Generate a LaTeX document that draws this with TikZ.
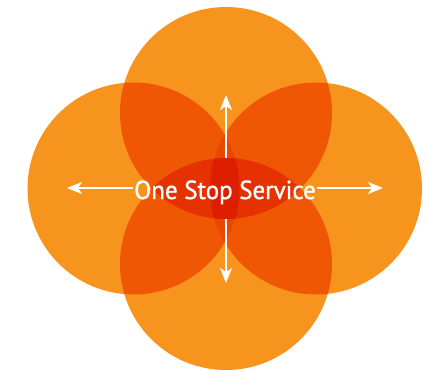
\documentclass[tikz,border=0pt]{standalone}
\usepackage{fontspec}
\setmainfont{PT Sans}
\newfontfamily\lblfont{PT Sans}[FakeBold=1.2]
\usetikzlibrary{arrows.meta}
\definecolor{cS}{RGB}{247,148,30}
\definecolor{cD}{RGB}{239,87,4}
\definecolor{cTLR}{RGB}{234,72,2}
\definecolor{cTBS}{RGB}{229,50,0}
\definecolor{cAll}{RGB}{221,30,0}
\begin{document}
\begin{tikzpicture}[x=1pt,y=1pt,
  arr/.style={draw=white, line width=2pt, -{Stealth[length=15pt,width=12pt,inset=4pt]}},
  lbl/.style={text=white, font=\lblfont\fontsize{26}{30}\selectfont, inner sep=1.5pt, xscale=0.96}]
\useasboundingbox (0,0) rectangle (427,-371);
\def\circT{(226,-113) circle[radius=106]}
\def\circB{(226,-264) circle[radius=106]}
\def\circL{(133.5,-188.5) circle[radius=106]}
\def\circR{(316,-188.5) circle[radius=106]}
% single
\fill[cS] \circT; \fill[cS] \circB; \fill[cS] \circL; \fill[cS] \circR;
% doubles
\begin{scope}\clip \circT; \fill[cD] \circL; \fill[cD] \circR; \end{scope}
\begin{scope}\clip \circB; \fill[cD] \circL; \fill[cD] \circR; \end{scope}
% triple: left+right with top/bottom
\begin{scope}\clip \circL; \clip \circR; \fill[cTLR] \circT; \fill[cTLR] \circB; \end{scope}
% triple: top+bottom with left/right
\begin{scope}\clip \circT; \clip \circB; \fill[cTBS] \circL; \fill[cTBS] \circR; \end{scope}
% all four
\begin{scope}\clip \circT; \clip \circB; \clip \circL; \fill[cAll] \circR; \end{scope}
% label and arrows
\node[lbl, anchor=base] (txt) at (225,-199) {One Stop Service};
\coordinate (lt) at (67,-188);
\coordinate (rt) at (383,-188);
\coordinate (ub) at (226,-158);
\coordinate (ut) at (226,-95);
\coordinate (db) at (226,-219);
\coordinate (dt) at (226,-283);
\draw[arr] (txt.west |- lt) -- (lt);
\draw[arr] (txt.east |- rt) -- (rt);
\draw[arr] (ub) -- (ut);
\draw[arr] (db) -- (dt);
\end{tikzpicture}
\end{document}
